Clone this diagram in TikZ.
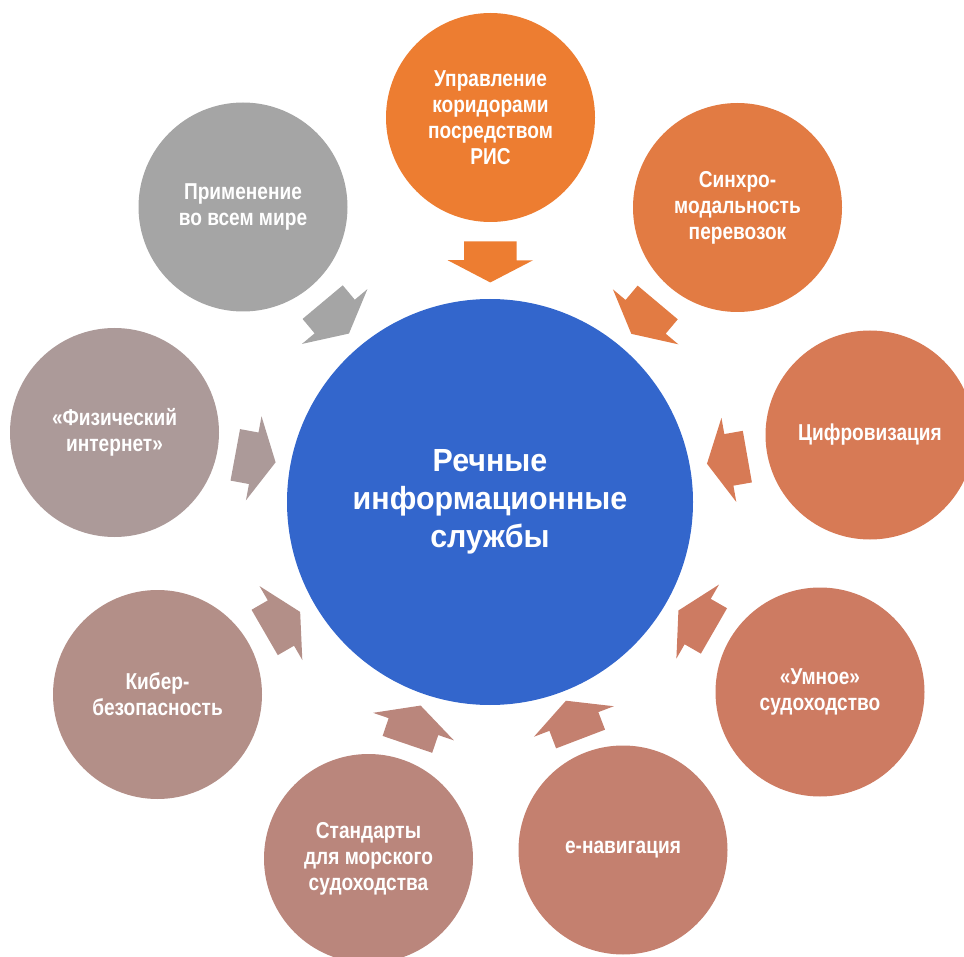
\documentclass[tikz,border=0pt]{standalone}
\usepackage{fontspec}
\setmainfont[FakeStretch=0.83]{Liberation Sans}
\newfontfamily\hubfont[FakeStretch=0.95]{Liberation Sans}
\usepackage{tikz}
\usepackage{xcolor}
\usetikzlibrary{shapes.arrows}

\definecolor{hubblue}{RGB}{51,102,204}
\definecolor{cA}{RGB}{237,125,49}
\definecolor{cB}{RGB}{226,123,67}
\definecolor{cC}{RGB}{215,122,85}
\definecolor{cD}{RGB}{205,123,98}
\definecolor{cE}{RGB}{196,128,111}
\definecolor{cF}{RGB}{186,134,124}
\definecolor{cG}{RGB}{179,143,136}
\definecolor{cH}{RGB}{172,154,153}
\definecolor{cI}{RGB}{165,165,165}

\tikzset{
  topic/.style={circle,minimum size=209pt,inner sep=0pt,text=white,align=center,
    font=\fontsize{23}{26}\selectfont\bfseries},
  hubnode/.style={circle,minimum size=406pt,inner sep=0pt,text=white,align=center,
    font=\hubfont\fontsize{32}{38}\selectfont\bfseries},
  inarrow/.style={single arrow,minimum height=41pt,inner xsep=0pt,inner ysep=26pt,
    single arrow head extend=16.5pt,single arrow tip angle=125,
    pos=0.43,sloped,allow upside down}
}

\begin{document}
\begin{tikzpicture}[x=1pt,y=-1pt]
      \useasboundingbox (0,0) rectangle (964,957);
      \node [hubnode,fill=hubblue] (hub) at (490,502) {Речные\\информационные\\службы};
      \node [topic,fill=cA] (n1) at (490.5,117.5) {Управление\\коридорами\\посредством\\РИС};
      \node [topic,fill=cB] (n2) at (737.5,207.5) {Синхро-\\модальность\\перевозок};
      \node [topic,fill=cC] (n3) at (870,435) {Цифровизация};
      \node [topic,fill=cD] (n4) at (820,692) {«Умное»\\судоходство};
      \node [topic,fill=cE] (n5) at (623,850) {e-навигация};
      \node [topic,fill=cF] (n6) at (368.5,858.5) {Стандарты\\для морского\\судоходства};
      \node [topic,fill=cG] (n7) at (157.5,694.5) {Кибер-\\безопасность};
      \node [topic,fill=cH] (n8) at (114.5,432.5) {«Физический\\интернет»};
      \node [topic,fill=cI] (n9) at (243,207) {Применение\\во всем мире};
      \path (n1) -- (hub) node [inarrow,fill=cA] (a1) {};
      \path (n2) -- (hub) node [inarrow,fill=cB] (a2) {};
      \path (n3) -- (hub) node [inarrow,fill=cC] (a3) {};
      \path (n4) -- (hub) node [inarrow,fill=cD] (a4) {};
      \path (n5) -- (hub) node [inarrow,fill=cE] (a5) {};
      \path (n6) -- (hub) node [inarrow,fill=cF] (a6) {};
      \path (n7) -- (hub) node [inarrow,fill=cG] (a7) {};
      \path (n8) -- (hub) node [inarrow,fill=cH] (a8) {};
      \path (n9) -- (hub) node [inarrow,fill=cI] (a9) {};
    \end{tikzpicture}
\end{document}
